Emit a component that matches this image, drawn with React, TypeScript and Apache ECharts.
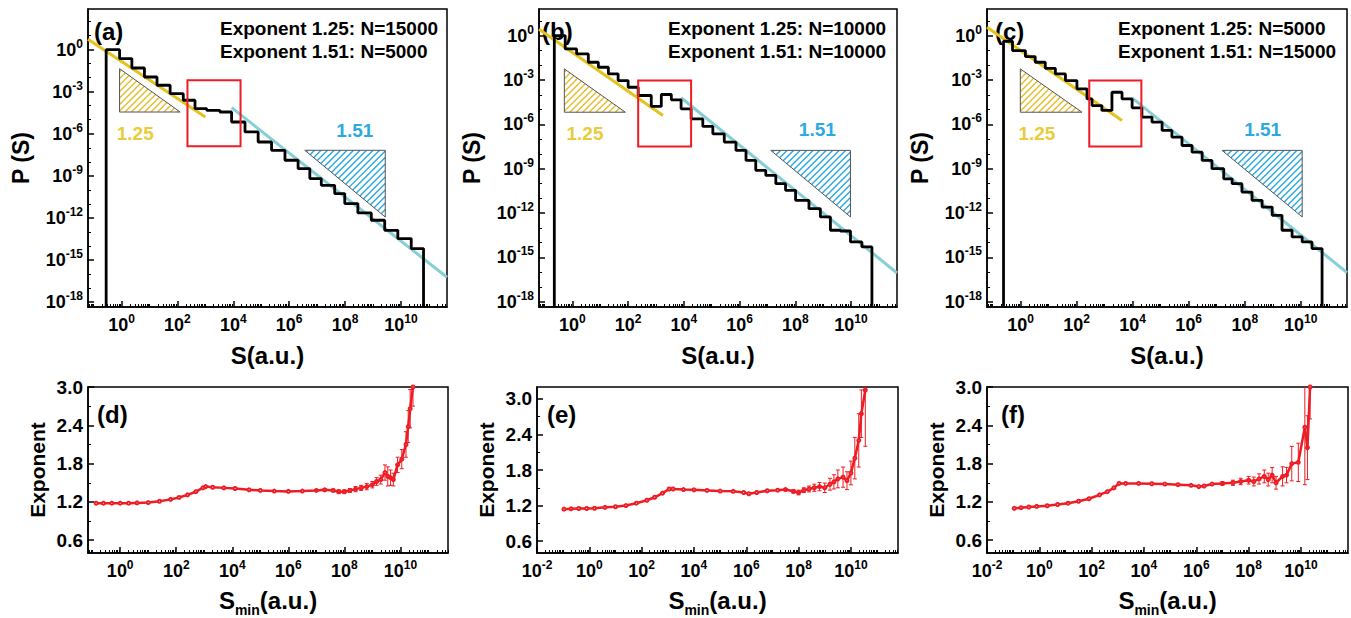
import React, { useEffect, useRef } from "react";
import * as echarts from "echarts";

const FONT = "Arial, 'Liberation Sans', Helvetica, sans-serif";
const RED = "#EE1C24";
const YELLOW = "#E5C21C";
const CYAN = "#86CFD6";
const HATCH_Y = "#E3BD2B";
const HATCH_B = "#2AA8E0";
const TXT_Y = "#EACB3A";
const TXT_B = "#2BAAE2";

// ===================== DATA (log10 units) =====================
// Panel (a): histogram bin edges (log10 S) and heights (log10 P)
const edgesA = [-0.55, -0.07, 0.37, 0.82, 1.27, 1.74, 2.21, 2.63, 3.05, 3.52, 3.94, 4.42, 4.89, 5.37, 5.85, 6.32, 6.74, 7.15, 7.63, 7.99, 8.46, 8.94, 9.42, 9.89, 10.37, 10.81];
const levelsA = [0, -0.64, -1.31, -1.95, -2.54, -3.14, -3.61, -4.21, -4.33, -4.45, -5.16, -5.87, -6.59, -7.18, -7.89, -8.49, -9.2, -9.68, -10.27, -10.98, -11.65, -12.17, -12.89, -13.48, -14.19];
const fitLowA = [[-1.2, 0.74], [3.0, -4.81]];
const fitHighA = [[3.94, -4.14], [11.65, -16.24]];
const boxA = [2.36, 4.26, -2.19, -6.9];
const triLowA = [-0.07, -1.36, -0.07, -4.45, 2.1, -4.45];
const triHighA = [6.56, -7.18, 9.44, -7.18, 9.44, -11.94];
const slopePosA = [[0.49, -5.99], [8.35, -5.75]];
const headerA = ["Exponent 1.25: N=15000", "Exponent 1.51: N=5000"];

// Panel (b)
const edgesB = [-0.65, -0.26, 0.15, 0.57, 0.93, 1.29, 1.64, 2.0, 2.36, 2.83, 3.19, 3.55, 3.9, 4.26, 4.68, 5.04, 5.45, 5.87, 6.23, 6.58, 6.94, 7.3, 7.65, 8.01, 8.49, 8.9, 9.26, 9.62, 9.98, 10.39, 10.75];
const levelsB = [0, -0.9, -1.24, -1.8, -2.14, -2.59, -3.04, -3.49, -4.05, -4.79, -3.98, -4.34, -4.95, -5.63, -6.14, -6.64, -7.2, -7.76, -8.44, -9.11, -9.45, -10.01, -10.46, -11.14, -11.7, -12.26, -13.16, -13.21, -13.95, -14.29];
const fitLowB = [[-1.2, 0.43], [3.25, -5.4]];
const fitHighB = [[3.9, -4.2], [11.65, -16.05]];
const boxB = [2.36, 4.26, -3.04, -7.49];
const triLowB = [-0.29, -2.25, -0.29, -5.18, 1.9, -5.18];
const triHighB = [7.12, -7.76, 9.98, -7.76, 9.98, -12.26];
const slopePosB = [[0.45, -6.64], [8.79, -6.37]];
const headerB = ["Exponent 1.25: N=10000", "Exponent 1.51: N=10000"];

// Panel (c)
const edgesC = [-0.61, -0.29, 0.17, 0.52, 0.88, 1.24, 1.6, 2.01, 2.37, 2.55, 2.9, 3.26, 3.62, 3.98, 4.33, 4.69, 5.05, 5.4, 5.76, 6.12, 6.48, 6.83, 7.25, 7.55, 7.9, 8.26, 8.62, 8.98, 9.33, 9.69, 10.05, 10.4, 10.76];
const levelsC = [-0.38, -1.01, -1.42, -1.8, -2.21, -2.59, -3.04, -3.6, -4.28, -4.73, -5.06, -3.83, -4.28, -4.88, -5.51, -5.85, -6.41, -6.86, -7.43, -7.88, -8.44, -9.0, -9.68, -10.01, -10.58, -11.14, -11.59, -12.15, -13.16, -13.61, -13.95, -14.4];
const fitLowC = [[-1.2, 0.56], [3.62, -5.74]];
const fitHighC = [[3.98, -4.21], [11.65, -16.03]];
const boxC = [2.45, 4.31, -3.04, -7.49];
const triLowC = [-0.01, -2.25, -0.01, -5.18, 2.19, -5.18];
const triHighC = [7.19, -7.76, 10.05, -7.76, 10.05, -12.26];
const slopePosC = [[0.58, -6.64], [8.64, -6.37]];
const headerC = ["Exponent 1.25: N=5000", "Exponent 1.51: N=15000"];

const slopeNames = ["1.25", "1.51"];

// Panel (d): log10 Smin, exponent, error
const dLogS = [-0.86, -0.6, -0.3, 0, 0.3, 0.6, 1.0, 1.4, 1.8, 2.1, 2.4, 2.7, 2.95, 3.05, 3.3, 3.7, 4.1, 4.6, 5.0, 5.5, 6.0, 6.5, 7.0, 7.3, 7.6, 7.8, 8.0, 8.2, 8.4, 8.6, 8.8, 9.0, 9.15, 9.3, 9.45, 9.55, 9.65, 9.75, 9.9, 10.05, 10.2, 10.28, 10.35, 10.45];
const dExp = [1.18, 1.18, 1.18, 1.18, 1.18, 1.185, 1.19, 1.21, 1.24, 1.27, 1.31, 1.36, 1.42, 1.44, 1.43, 1.42, 1.41, 1.39, 1.38, 1.37, 1.365, 1.37, 1.38, 1.39, 1.38, 1.36, 1.36, 1.38, 1.4, 1.42, 1.44, 1.47, 1.52, 1.55, 1.66, 1.6, 1.58, 1.55, 1.78, 1.87, 2.1, 2.38, 2.66, 3.0];
const dErr = [0, 0, 0, 0, 0, 0, 0, 0, 0, 0, 0, 0, 0, 0, 0, 0, 0, 0, 0, 0, 0, 0, 0.01, 0.02, 0.02, 0.03, 0.03, 0.03, 0.04, 0.04, 0.05, 0.05, 0.06, 0.07, 0.12, 0.15, 0.12, 0.1, 0.12, 0.15, 0.2, 0.25, 0.3, 0.3];

// Panel (e)
const eLogS = [-0.97, -0.7, -0.4, -0.1, 0.2, 0.6, 1.0, 1.4, 1.8, 2.2, 2.5, 2.8, 3.05, 3.2, 3.6, 4.0, 4.5, 5.0, 5.5, 5.9, 6.1, 6.4, 6.8, 7.2, 7.5, 7.8, 8.0, 8.2, 8.4, 8.6, 8.8, 9.0, 9.2, 9.35, 9.5, 9.7, 9.85, 10.0, 10.15, 10.3, 10.4, 10.55];
const eExp = [1.14, 1.145, 1.15, 1.15, 1.155, 1.17, 1.18, 1.2, 1.24, 1.29, 1.34, 1.41, 1.48, 1.48, 1.47, 1.465, 1.455, 1.445, 1.44, 1.42, 1.4, 1.42, 1.45, 1.46, 1.47, 1.44, 1.42, 1.46, 1.48, 1.5, 1.52, 1.5, 1.56, 1.6, 1.65, 1.68, 1.62, 1.75, 2.0, 2.3, 2.75, 3.15];
const eErr = [0, 0, 0, 0, 0, 0, 0, 0, 0, 0, 0, 0, 0, 0, 0, 0, 0, 0, 0, 0, 0, 0, 0, 0, 0.02, 0.03, 0.04, 0.04, 0.05, 0.06, 0.07, 0.08, 0.1, 0.12, 0.15, 0.17, 0.15, 0.2, 0.35, 0.45, 0.4, 0.95];

// Panel (f)
const fLogS = [-0.96, -0.7, -0.4, -0.1, 0.3, 0.7, 1.1, 1.5, 1.9, 2.3, 2.6, 2.85, 3.05, 3.3, 3.8, 4.3, 4.8, 5.3, 5.8, 6.1, 6.3, 6.6, 7.0, 7.4, 7.7, 8.0, 8.2, 8.4, 8.6, 8.75, 8.9, 9.05, 9.3, 9.45, 9.65, 9.9, 10.15, 10.25, 10.35];
const fExp = [1.1, 1.11, 1.12, 1.13, 1.14, 1.16, 1.18, 1.21, 1.25, 1.31, 1.36, 1.42, 1.49, 1.49, 1.49, 1.485, 1.48, 1.47, 1.46, 1.44, 1.45, 1.48, 1.49, 1.5, 1.52, 1.54, 1.52, 1.56, 1.6, 1.55, 1.62, 1.5, 1.6, 1.62, 1.8, 1.82, 2.37, 2.05, 3.0];
const fErr = [0, 0, 0, 0, 0, 0, 0, 0, 0, 0, 0, 0, 0, 0, 0, 0, 0, 0, 0, 0, 0, 0, 0.03, 0.04, 0.05, 0.06, 0.07, 0.08, 0.1, 0.1, 0.12, 0.1, 0.15, 0.12, 0.27, 0.3, 0.9, 0.5, 0.5];

// Tick label values
const xLabelsTop = [0, 2, 4, 6, 8, 10];
const xLabelsWide = [-2, 0, 2, 4, 6, 8, 10];
const yLabelsTop = [-18, -15, -12, -9, -6, -3, 0];
const yLabelsBot = [0.6, 1.2, 1.8, 2.4, 3.0];
const yMinorBot = [0.9, 1.5, 2.1, 2.7];

// ===================== HELPERS =====================
const powRich: any = {
  b: { fontFamily: FONT, fontWeight: "bold", fontSize: 18, color: "#000", lineHeight: 24 },
  s: { fontFamily: FONT, fontWeight: "bold", fontSize: 12, color: "#000", lineHeight: 13, verticalAlign: "top" },
};
const powFmt = (v: number) => `{b|10}{s|${Math.round(v)}}`;

function stairs(edges: number[], levels: number[], floor: number) {
  const pts: number[][] = [[edges[0], floor]];
  levels.forEach((l, i) => {
    pts.push([edges[i], l]);
    pts.push([edges[i + 1], l]);
  });
  pts.push([edges[edges.length - 1], floor]);
  return pts;
}

function xMinorTicks(min: number, max: number, majors: number[]) {
  const out: number[] = [];
  for (let n = Math.floor(min); n <= Math.ceil(max); n++) {
    if (!majors.includes(n) && n >= min && n <= max) out.push(n);
    for (let k = 2; k <= 9; k++) {
      const v = n + Math.log10(k);
      if (v >= min && v <= max) out.push(v);
    }
  }
  return out;
}

function intTicks(min: number, max: number, skip: number[]) {
  const out: number[] = [];
  for (let n = Math.ceil(min); n <= Math.floor(max); n++) if (!skip.includes(n)) out.push(n);
  return out;
}

function hatch(pts: number[][], spacing: number, color: string) {
  const sums = pts.map((p) => p[0] + p[1]);
  const cMin = Math.min(...sums);
  const cMax = Math.max(...sums);
  const lines: any[] = [];
  for (let c = cMin + spacing / 2; c < cMax; c += spacing) {
    const hits: number[][] = [];
    for (let i = 0; i < pts.length; i++) {
      const A = pts[i];
      const B = pts[(i + 1) % pts.length];
      const fa = A[0] + A[1] - c;
      const fb = B[0] + B[1] - c;
      if ((fa <= 0 && fb >= 0) || (fa >= 0 && fb <= 0)) {
        if (fa === fb) continue;
        const t = fa / (fa - fb);
        hits.push([A[0] + (B[0] - A[0]) * t, A[1] + (B[1] - A[1]) * t]);
      }
    }
    if (hits.length >= 2) {
      hits.sort((p, q) => p[0] - q[0]);
      const p = hits[0];
      const q = hits[hits.length - 1];
      lines.push({
        type: "line",
        shape: { x1: p[0], y1: p[1], x2: q[0], y2: q[1] },
        style: { stroke: color, lineWidth: 1.4 },
      });
    }
  }
  return lines;
}

function buildOption() {
  const grid: any[] = [];
  const xAxis: any[] = [];
  const yAxis: any[] = [];
  const series: any[] = [];
  const graphic: any[] = [];

  const nameStyle = (size: number) => ({
    fontFamily: FONT,
    fontWeight: "bold",
    fontSize: size,
    color: "#000",
    rich: {
      b: { fontFamily: FONT, fontWeight: "bold", fontSize: size, color: "#000", lineHeight: 34 },
      sub: { fontFamily: FONT, fontWeight: "bold", fontSize: 14, color: "#000", lineHeight: 14, verticalAlign: "bottom" },
    },
  });

  function addAxes(
    idx: number,
    rect: any,
    xr: number[],
    yr: number[],
    xMajor: number[],
    yMajor: number[],
    yMinor: number[],
    yLabelFmt: any,
    yRich: any,
    yLabelSize: number,
    xName: string,
    yName: string,
    xGap: number,
    yGap: number,
    yNameSize: number
  ) {
    grid.push({ ...rect, show: true, borderColor: "#000", borderWidth: 1.5, backgroundColor: "transparent" });
    xAxis.push({
      type: "value",
      gridIndex: idx,
      min: xr[0],
      max: xr[1],
      position: "bottom",
      axisLine: { show: true, onZero: false, lineStyle: { color: "#000", width: 1.5 } },
      axisTick: { show: true, inside: true, length: 6, customValues: xMajor, lineStyle: { color: "#000", width: 1.5 } },
      axisLabel: { show: true, customValues: xMajor, formatter: powFmt, rich: powRich, margin: 6 },
      splitLine: { show: false },
      name: xName,
      nameLocation: "middle",
      nameGap: xGap,
      nameTextStyle: nameStyle(24),
    });
    xAxis.push({
      type: "value",
      gridIndex: idx,
      min: xr[0],
      max: xr[1],
      position: "bottom",
      axisLine: { show: false, onZero: false },
      axisTick: { show: true, inside: true, length: 3, customValues: xMinorTicks(xr[0], xr[1], xMajor), lineStyle: { color: "#000", width: 1 } },
      axisLabel: { show: false },
      splitLine: { show: false },
    });
    yAxis.push({
      type: "value",
      gridIndex: idx,
      min: yr[0],
      max: yr[1],
      position: "left",
      axisLine: { show: true, onZero: false, lineStyle: { color: "#000", width: 1.5 } },
      axisTick: { show: true, inside: true, length: 6, customValues: yMajor, lineStyle: { color: "#000", width: 1.5 } },
      axisLabel: {
        show: true,
        customValues: yMajor,
        formatter: yLabelFmt,
        rich: yRich,
        margin: 5,
        color: "#000",
        fontFamily: FONT,
        fontWeight: "bold",
        fontSize: yLabelSize,
      },
      splitLine: { show: false },
      name: yName,
      nameLocation: "middle",
      nameGap: yGap,
      nameTextStyle: nameStyle(yNameSize),
    });
    yAxis.push({
      type: "value",
      gridIndex: idx,
      min: yr[0],
      max: yr[1],
      position: "left",
      axisLine: { show: false, onZero: false },
      axisTick: { show: true, inside: true, length: 3, customValues: yMinor, lineStyle: { color: "#000", width: 1 } },
      axisLabel: { show: false },
      splitLine: { show: false },
    });
  }

  // ---------- top panels ----------
  const topPanels = [
    { edges: edgesA, levels: levelsA, fitLow: fitLowA, fitHigh: fitHighA, box: boxA, triLow: triLowA, triHigh: triHighA, slopePos: slopePosA, header: headerA, letter: "(a)", yr: [-18.36, 2.9], rect: { left: 88, top: 9, width: 359, height: 298 }, hx: 220, lx: 94 },
    { edges: edgesB, levels: levelsB, fitLow: fitLowB, fitHigh: fitHighB, box: boxB, triLow: triLowB, triHigh: triHighB, slopePos: slopePosB, header: headerB, letter: "(b)", yr: [-18.35, 1.8], rect: { left: 539, top: 9, width: 358, height: 298 }, hx: 668, lx: 542 },
    { edges: edgesC, levels: levelsC, fitLow: fitLowC, fitHigh: fitHighC, box: boxC, triLow: triLowC, triHigh: triHighC, slopePos: slopePosC, header: headerC, letter: "(c)", yr: [-18.35, 1.8], rect: { left: 987, top: 9, width: 360, height: 298 }, hx: 1118, lx: 995 },
  ];
  const topX = [-1.2, 11.65];

  topPanels.forEach((p, i) => {
    addAxes(i, p.rect, topX, p.yr, xLabelsTop, yLabelsTop, intTicks(p.yr[0], p.yr[1], yLabelsTop), powFmt, powRich, 18, "S(a.u.)", "P (S)", 36, 56, 23);
    const ax = { xAxisIndex: i * 2, yAxisIndex: i * 2 };
    series.push({ type: "line", ...ax, data: p.fitLow, symbol: "none", lineStyle: { color: YELLOW, width: 3 }, z: 2 });
    series.push({ type: "line", ...ax, data: p.fitHigh, symbol: "none", lineStyle: { color: CYAN, width: 3 }, z: 2 });
    series.push({ type: "line", ...ax, data: stairs(p.edges, p.levels, p.yr[0]), symbol: "none", lineStyle: { color: "#000", width: 2.8 }, z: 3 });
    series.push({
      type: "custom",
      ...ax,
      z: 4,
      data: [p.triLow, p.triHigh],
      renderItem: (params: any, api: any) => {
        const pts = [0, 1, 2].map((k) => api.coord([api.value(k * 2), api.value(k * 2 + 1)]));
        const col = params.dataIndex === 0 ? HATCH_Y : HATCH_B;
        return {
          type: "group",
          children: [
            ...hatch(pts, 6.5, col),
            { type: "polygon", shape: { points: pts }, style: { fill: "none", stroke: "#555", lineWidth: 1 } },
          ],
        };
      },
    });
    series.push({
      type: "custom",
      ...ax,
      z: 5,
      data: [p.box],
      renderItem: (params: any, api: any) => {
        const a = api.coord([api.value(0), api.value(2)]);
        const b = api.coord([api.value(1), api.value(3)]);
        return {
          type: "rect",
          shape: { x: Math.min(a[0], b[0]), y: Math.min(a[1], b[1]), width: Math.abs(b[0] - a[0]), height: Math.abs(b[1] - a[1]) },
          style: { fill: "none", stroke: RED, lineWidth: 2 },
        };
      },
    });
    series.push({
      type: "custom",
      ...ax,
      z: 5,
      data: p.slopePos,
      renderItem: (params: any, api: any) => {
        const c = api.coord([api.value(0), api.value(1)]);
        return {
          type: "text",
          x: c[0],
          y: c[1],
          style: {
            text: slopeNames[params.dataIndex],
            fill: params.dataIndex === 0 ? TXT_Y : TXT_B,
            font: `bold 19px ${FONT}`,
            align: "center",
            verticalAlign: "middle",
          },
        };
      },
    });
    p.header.forEach((t, k) => {
      graphic.push({ type: "text", x: p.hx, y: 28 + k * 23, style: { text: t, font: `bold 19px ${FONT}`, fill: "#000", verticalAlign: "middle" } });
    });
    graphic.push({ type: "text", x: p.lx, y: 31, style: { text: p.letter, font: `bold 24px ${FONT}`, fill: "#000", verticalAlign: "middle" } });
  });

  // ---------- bottom panels ----------
  const botPanels = [
    { s: dLogS, e: dExp, err: dErr, letter: "(d)", xr: [-1.15, 11.7], yr: [0.4, 3.0], xl: xLabelsTop, rect: { left: 88, top: 387, width: 360, height: 168 }, lx: 97 },
    { s: eLogS, e: eExp, err: eErr, letter: "(e)", xr: [-2.0, 11.8], yr: [0.4, 3.2], xl: xLabelsWide, rect: { left: 537, top: 387, width: 361, height: 169 }, lx: 547 },
    { s: fLogS, e: fExp, err: fErr, letter: "(f)", xr: [-2.0, 11.8], yr: [0.4, 3.0], xl: xLabelsWide, rect: { left: 987, top: 387, width: 361, height: 169 }, lx: 1001 },
  ];
  botPanels.forEach((p, j) => {
    const i = 3 + j;
    addAxes(i, p.rect, p.xr, p.yr, p.xl, yLabelsBot, yMinorBot, (v: number) => v.toFixed(1), undefined, 19, "{b|S}{sub|min}{b|(a.u.)}", "Exponent", 30, 40, 21);
    const ax = { xAxisIndex: i * 2, yAxisIndex: i * 2 };
    series.push({
      type: "line",
      ...ax,
      data: p.s.map((x, k) => [x, p.e[k]]),
      symbol: "emptyCircle",
      symbolSize: 3,
      showSymbol: true,
      lineStyle: { color: RED, width: 2.5 },
      itemStyle: { color: RED, borderWidth: 1 },
      z: 3,
    });
    series.push({
      type: "custom",
      ...ax,
      z: 4,
      clip: true,
      data: p.s.map((x, k) => [x, p.e[k], p.err[k]]).filter((d) => d[2] > 0),
      renderItem: (params: any, api: any) => {
        const x = api.value(0);
        const y = api.value(1);
        const er = api.value(2);
        const top = api.coord([x, y + er]);
        const bot = api.coord([x, y - er]);
        const w = 2;
        return {
          type: "group",
          children: [
            { type: "line", shape: { x1: top[0], y1: top[1], x2: bot[0], y2: bot[1] }, style: { stroke: RED, lineWidth: 1 } },
            { type: "line", shape: { x1: top[0] - w, y1: top[1], x2: top[0] + w, y2: top[1] }, style: { stroke: RED, lineWidth: 1 } },
            { type: "line", shape: { x1: bot[0] - w, y1: bot[1], x2: bot[0] + w, y2: bot[1] }, style: { stroke: RED, lineWidth: 1 } },
          ],
        };
      },
    });
    graphic.push({ type: "text", x: p.lx, y: 414, style: { text: p.letter, font: `bold 24px ${FONT}`, fill: "#000", verticalAlign: "middle" } });
  });

  return { animation: false, backgroundColor: "#fff", grid, xAxis, yAxis, series, graphic };
}

export default function App() {
  const ref = useRef<HTMLDivElement>(null);
  useEffect(() => {
    const chart = echarts.init(ref.current!, null, { renderer: "svg" });
    chart.setOption(buildOption() as any);
    return () => chart.dispose();
  }, []);
  return <div ref={ref} style={{ position: "fixed", left: 0, top: 0, width: 1351, height: 618, background: "#fff" }} />;
}
